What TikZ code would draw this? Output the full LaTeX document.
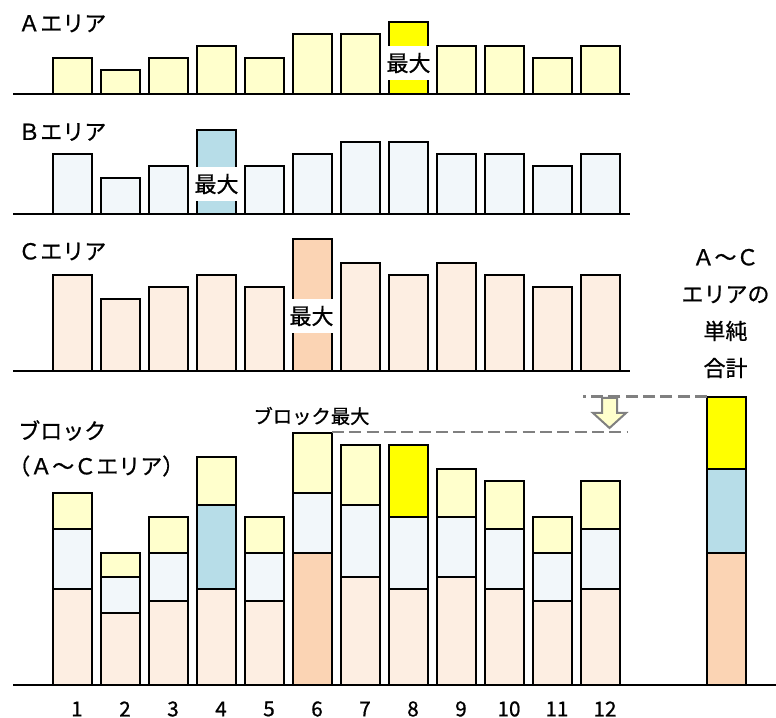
\documentclass[tikz,border=0pt]{standalone}
\usepackage{fontspec}
\setmainfont{Noto Sans CJK JP}[RawFeature={embolden=0.8}]
\definecolor{aLight}{HTML}{FFFFCC}
\definecolor{aStrong}{HTML}{FFFF00}
\definecolor{bLight}{HTML}{F2F7FA}
\definecolor{bStrong}{HTML}{B7DDE8}
\definecolor{cLight}{HTML}{FDEEE2}
\definecolor{cStrong}{HTML}{FBD4B4}

\begin{document}
\begin{tikzpicture}[x=0.75pt,y=0.75pt,
    bar/.style={draw=black,line width=2pt},
    axis/.style={draw=black,line width=2pt},
    lab/.style={font=\fontsize{16.5}{20}\selectfont,inner sep=0pt},
    maxlab/.style={lab,fill=white,inner xsep=2pt,minimum height=26pt},
    num/.style={font=\fontsize{15.5}{18}\selectfont,inner sep=0pt},
    guide/.style={draw=gray,line width=2.2pt,dash pattern=on 9pt off 4pt}]

    \useasboundingbox (0,0) rectangle (776,718);

    % A area
    \draw[bar,fill=aLight] (53,624) rectangle (92,660);
    \draw[bar,fill=aLight] (101,624) rectangle (140,648);
    \draw[bar,fill=aLight] (149,624) rectangle (188,660);
    \draw[bar,fill=aLight] (197,624) rectangle (236,672);
    \draw[bar,fill=aLight] (245,624) rectangle (284,660);
    \draw[bar,fill=aLight] (293,624) rectangle (332,684);
    \draw[bar,fill=aLight] (341,624) rectangle (380,684);
    \draw[bar,fill=aStrong] (389,624) rectangle (428,696);
    \draw[bar,fill=aLight] (437,624) rectangle (476,672);
    \draw[bar,fill=aLight] (485,624) rectangle (524,672);
    \draw[bar,fill=aLight] (533,624) rectangle (572,660);
    \draw[bar,fill=aLight] (581,624) rectangle (620,672);
    \draw[axis] (13,624) -- (630,624);
    \node[lab,anchor=west] (labA) at (18,694.5) {Ａエリア};
    \node[maxlab] (maxA) at (408.5,655) {最大};

    % B area
    \draw[bar,fill=bLight] (53,504) rectangle (92,564);
    \draw[bar,fill=bLight] (101,504) rectangle (140,540);
    \draw[bar,fill=bLight] (149,504) rectangle (188,552);
    \draw[bar,fill=bStrong] (197,504) rectangle (236,588);
    \draw[bar,fill=bLight] (245,504) rectangle (284,552);
    \draw[bar,fill=bLight] (293,504) rectangle (332,564);
    \draw[bar,fill=bLight] (341,504) rectangle (380,576);
    \draw[bar,fill=bLight] (389,504) rectangle (428,576);
    \draw[bar,fill=bLight] (437,504) rectangle (476,564);
    \draw[bar,fill=bLight] (485,504) rectangle (524,564);
    \draw[bar,fill=bLight] (533,504) rectangle (572,552);
    \draw[bar,fill=bLight] (581,504) rectangle (620,564);
    \draw[axis] (13,504) -- (630,504);
    \node[lab,anchor=west] (labB) at (18,586) {Ｂエリア};
    \node[maxlab] (maxB) at (216.5,534) {最大};

    % C area
    \draw[bar,fill=cLight] (53,347) rectangle (92,443);
    \draw[bar,fill=cLight] (101,347) rectangle (140,419);
    \draw[bar,fill=cLight] (149,347) rectangle (188,431);
    \draw[bar,fill=cLight] (197,347) rectangle (236,443);
    \draw[bar,fill=cLight] (245,347) rectangle (284,431);
    \draw[bar,fill=cStrong] (293,347) rectangle (332,479);
    \draw[bar,fill=cLight] (341,347) rectangle (380,455);
    \draw[bar,fill=cLight] (389,347) rectangle (428,443);
    \draw[bar,fill=cLight] (437,347) rectangle (476,455);
    \draw[bar,fill=cLight] (485,347) rectangle (524,443);
    \draw[bar,fill=cLight] (533,347) rectangle (572,431);
    \draw[bar,fill=cLight] (581,347) rectangle (620,443);
    \draw[axis] (13,347) -- (630,347);
    \node[lab,anchor=west] (labC) at (18,466.5) {Ｃエリア};
    \node[maxlab] (maxC) at (311.5,402) {最大};

    % block = C + B + A
    \draw[bar,fill=cLight] (53,33) rectangle (92,129);
    \draw[bar,fill=bLight] (53,129) rectangle (92,189);
    \draw[bar,fill=aLight] (53,189) rectangle (92,225);
    \draw[bar,fill=cLight] (101,33) rectangle (140,105);
    \draw[bar,fill=bLight] (101,105) rectangle (140,141);
    \draw[bar,fill=aLight] (101,141) rectangle (140,165);
    \draw[bar,fill=cLight] (149,33) rectangle (188,117);
    \draw[bar,fill=bLight] (149,117) rectangle (188,165);
    \draw[bar,fill=aLight] (149,165) rectangle (188,201);
    \draw[bar,fill=cLight] (197,33) rectangle (236,129);
    \draw[bar,fill=bStrong] (197,129) rectangle (236,213);
    \draw[bar,fill=aLight] (197,213) rectangle (236,261);
    \draw[bar,fill=cLight] (245,33) rectangle (284,117);
    \draw[bar,fill=bLight] (245,117) rectangle (284,165);
    \draw[bar,fill=aLight] (245,165) rectangle (284,201);
    \draw[bar,fill=cStrong] (293,33) rectangle (332,165);
    \draw[bar,fill=bLight] (293,165) rectangle (332,225);
    \draw[bar,fill=aLight] (293,225) rectangle (332,285);
    \draw[bar,fill=cLight] (341,33) rectangle (380,141);
    \draw[bar,fill=bLight] (341,141) rectangle (380,213);
    \draw[bar,fill=aLight] (341,213) rectangle (380,273);
    \draw[bar,fill=cLight] (389,33) rectangle (428,129);
    \draw[bar,fill=bLight] (389,129) rectangle (428,201);
    \draw[bar,fill=aStrong] (389,201) rectangle (428,273);
    \draw[bar,fill=cLight] (437,33) rectangle (476,141);
    \draw[bar,fill=bLight] (437,141) rectangle (476,201);
    \draw[bar,fill=aLight] (437,201) rectangle (476,249);
    \draw[bar,fill=cLight] (485,33) rectangle (524,129);
    \draw[bar,fill=bLight] (485,129) rectangle (524,189);
    \draw[bar,fill=aLight] (485,189) rectangle (524,237);
    \draw[bar,fill=cLight] (533,33) rectangle (572,117);
    \draw[bar,fill=bLight] (533,117) rectangle (572,165);
    \draw[bar,fill=aLight] (533,165) rectangle (572,201);
    \draw[bar,fill=cLight] (581,33) rectangle (620,129);
    \draw[bar,fill=bLight] (581,129) rectangle (620,189);
    \draw[bar,fill=aLight] (581,189) rectangle (620,237);

    % simple sum of the three maxima
    \draw[bar,fill=cStrong] (707,33) rectangle (746,165);
    \draw[bar,fill=bStrong] (707,165) rectangle (746,249);
    \draw[bar,fill=aStrong] (707,249) rectangle (746,321);
    \draw[axis] (13,33) -- (776,33);

    \node[lab,anchor=west] (labBlock) at (18,287.5) {ブロック};
    \node[lab,anchor=west] (labBlockSub) at (8,252) {（Ａ～Ｃエリア）};
    \node[lab,align=center,font=\fontsize{16.5}{27.75}\selectfont] (labSum) at (725.5,404.5) {Ａ～Ｃ\\エリアの\\単純\\合計};

    % maxima
    \coordinate (sumTop) at (707,321.5);
    \coordinate (sumEnd) at (583,321.5);
    \coordinate (blockTop) at (332,286);
    \coordinate (blockEnd) at (627,286);
    \draw[guide] (sumTop) -- (sumEnd);
    \draw[guide] (blockTop) -- (blockEnd);
    \node[font=\fontsize{14.5}{16}\selectfont,inner sep=0pt] (blockMax) at (311.5,302) {ブロック最大};
    \draw[draw=gray,line width=1.5pt,fill=aLight] (602,320) -- (617,320) -- (617,305) -- (626,305)
        -- (609.5,290) -- (593,305) -- (602,305) -- cycle;

    \node[num] (n1) at (77,9) {1};
    \node[num] (n2) at (125,9) {2};
    \node[num] (n3) at (173,9) {3};
    \node[num] (n4) at (221,9) {4};
    \node[num] (n5) at (269,9) {5};
    \node[num] (n6) at (317,9) {6};
    \node[num] (n7) at (365,9) {7};
    \node[num] (n8) at (413,9) {8};
    \node[num] (n9) at (461,9) {9};
    \node[num] (n10) at (509,9) {10};
    \node[num] (n11) at (557,9) {11};
    \node[num] (n12) at (605,9) {12};
\end{tikzpicture}
\end{document}
